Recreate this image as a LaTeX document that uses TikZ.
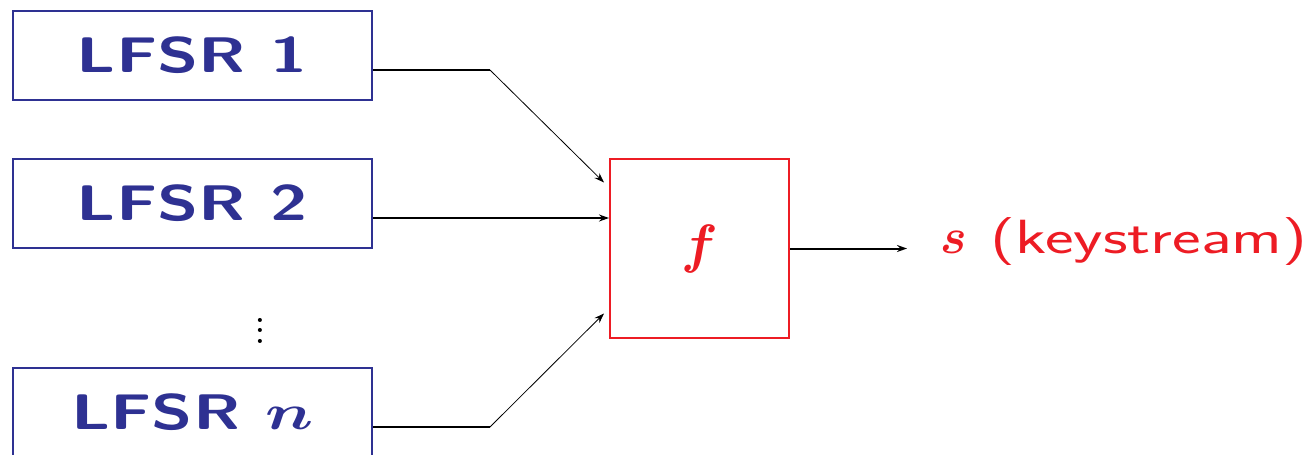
\RequirePackage{fix-cm}
\documentclass[tikz,border=0pt]{standalone}
\usepackage{bm}
\usetikzlibrary{calc,arrows.meta}
\definecolor{lblue}{RGB}{46,49,146}
\definecolor{fred}{RGB}{237,28,36}
\begin{document}
\begin{tikzpicture}[x=1pt,y=-1pt,
  lfsr/.style={draw=lblue,line width=2pt,minimum width=359pt,minimum height=89pt,inner sep=0pt,text=lblue,
    font=\fontsize{50}{56}\selectfont\sffamily\bfseries\boldmath},
  fbox/.style={draw=fred,line width=2pt,minimum width=179pt,minimum height=179pt,inner sep=0pt,text=fred,
    font=\fontsize{54}{60}\selectfont\boldmath},
  wire/.style={line width=2pt},
  slant/.style={line width=0.8pt},
  tip/.style={-{Stealth[length=10pt,width=7pt]}},
  outlbl/.style={text=fred,inner sep=0pt,anchor=base west}]
\useasboundingbox (0,0) rectangle (1315,455);
\node[lfsr] (l1) at (192.5,55.5) {\scalebox{1.35}[1]{LFSR 1}};
\node[lfsr] (l2) at (192.5,203.5) {\scalebox{1.35}[1]{LFSR 2}};
\node[lfsr] (ln) at (192.5,412.5) {\scalebox{1.35}[1]{LFSR $n$}};
\node[inner sep=0pt,font=\bfseries] (dots) at (260,323) {\scalebox{2.6}{$\vdots$}};
\node[fbox] (f) at (699.5,248.5) {$f$};
\coordinate (k1) at (490,70);
\coordinate (kn) at (490,427);
\coordinate (t1) at ($(f.west)+(-5,-66)$);
\coordinate (tn) at ($(f.west)+(-5,65)$);
\coordinate (o) at (907,248.5);
\draw[wire] (l1.east |- k1) -- (k1);
\draw[slant,tip] (k1) -- (t1);
\draw[wire,tip] (l2.east |- 0,218) -- (f.west |- 0,218);
\draw[wire] (ln.east |- kn) -- (kn);
\draw[slant,tip] (kn) -- (tn);
\draw[wire,tip] (f.east) -- (o);
\node[outlbl] (out) at (940,253) {{\fontsize{50}{60}\selectfont$\bm{s}$}\hspace{24pt}\scalebox{1.42}[1]{\fontsize{48}{54}\selectfont\sffamily (keystream)}};
\end{tikzpicture}
\end{document}
